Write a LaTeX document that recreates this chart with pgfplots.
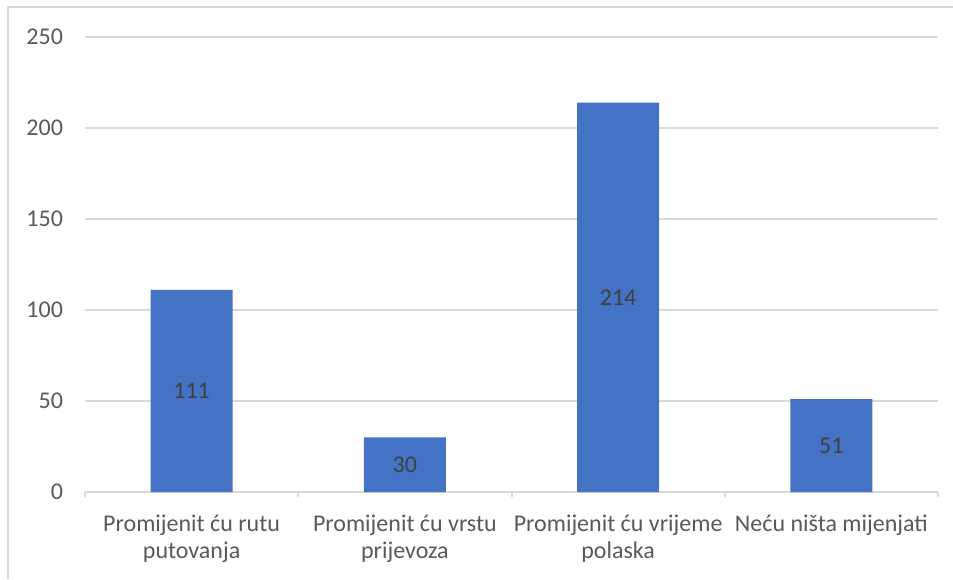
\documentclass[border=0pt]{standalone}
\usepackage{pgfplots}
\pgfplotsset{compat=1.18}
\usepackage{fontspec}
\setmainfont{Carlito}
\definecolor{barblue}{HTML}{4472C4}
\definecolor{gridgray}{HTML}{D9D9D9}
\definecolor{txtgray}{HTML}{595959}
\definecolor{lblgray}{HTML}{404040}
\begin{document}
\begin{tikzpicture}
\useasboundingbox (0,0) rectangle (476.5pt,289.5pt);
\draw[gridgray, line width=1pt] (4pt,0) -- (4pt,286pt) -- (477pt,286pt);
\begin{axis}[
  at={(42.5pt,43.5pt)}, anchor=south west,
  scale only axis, width=426.5pt, height=227.5pt,
  xmin=-0.5, xmax=3.5, ymin=0, ymax=250,
  ytick={0,50,...,250},
  xtick={0,1,2,3},
  xticklabels={{Promijenit ću rutu\\putovanja},{Promijenit ću vrstu\\prijevoza},{Promijenit ću vrijeme\\polaska},{Neću ništa mijenjati}},
  minor xtick={-0.5,0.5,1.5,2.5,3.5},
  tick align=outside,
  major tick length=0pt,
  minor tick length=2.5pt,
  minor tick style={gridgray, line width=1pt},
  major tick style={draw=none},
  axis lines*=left,
  y axis line style={draw=none},
  x axis line style={gridgray, line width=1pt},
  ymajorgrids,
  grid style={gridgray, line width=1pt},
  /pgf/number format/assume math mode=true,
  yticklabel style={text=txtgray, font=\fontsize{12}{14.4}\selectfont, xshift=-7.5pt},
  xticklabel style={text=txtgray, font=\fontsize{12}{13.5}\selectfont, align=center, anchor=north, yshift=-8pt},
  ybar, bar width=41pt,
  nodes near coords,
  visualization depends on=rawy \as \rawy,
  nodes near coords style={anchor=center, text=lblgray, font=\fontsize{12}{14.4}\selectfont, shift={(axis direction cs:0,-\rawy/2)}},
]
\addplot[fill=barblue, draw=none] coordinates {(0,111) (1,30) (2,214) (3,51)};
\end{axis}
\end{tikzpicture}
\end{document}
